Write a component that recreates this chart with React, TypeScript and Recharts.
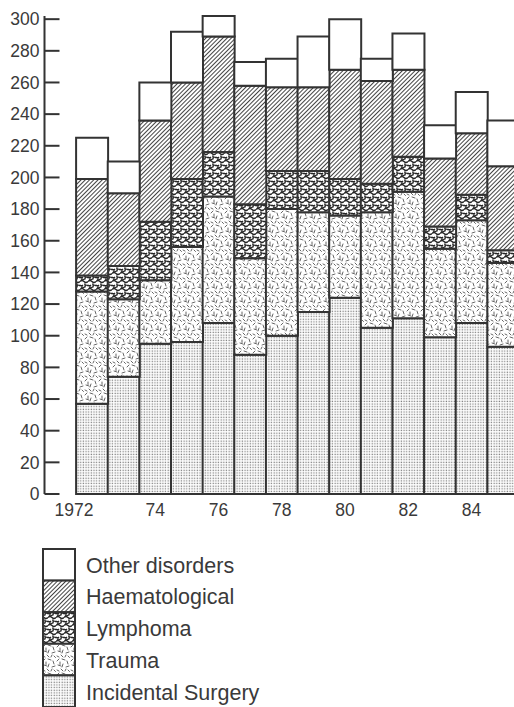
import { Bar, BarChart, XAxis, YAxis } from "recharts"

const years = ["1972", "1973", "1974", "1975", "1976", "1977", "1978", "1979", "1980", "1981", "1982", "1983", "1984", "1985"]
const yearLabels = ["1972", "", "74", "", "76", "", "78", "", "80", "", "82", "", "84", ""]

const surgery = [57, 74, 95, 96, 108, 88, 100, 115, 124, 105, 111, 99, 108, 93]
const trauma = [71, 49, 40, 60, 80, 61, 80, 63, 52, 73, 80, 56, 65, 53]
const lymphoma = [10, 21, 37, 43, 28, 34, 24, 26, 23, 18, 22, 14, 16, 8]
const haematological = [61, 46, 64, 61, 73, 75, 53, 53, 69, 65, 55, 43, 39, 53]
const other = [26, 20, 24, 32, 13, 15, 18, 32, 32, 14, 23, 21, 26, 29]

const yTicks = [0, 20, 40, 60, 80, 100, 120, 140, 160, 180, 200, 220, 240, 260, 280, 300]

// bottom of the stack first
const series = [
  { key: "surgery", name: "Incidental Surgery", fill: "url(#p-dots)" },
  { key: "trauma", name: "Trauma", fill: "url(#p-dash)" },
  { key: "lymphoma", name: "Lymphoma", fill: "url(#p-worm)" },
  { key: "haematological", name: "Haematological", fill: "url(#p-hatch)" },
  { key: "other", name: "Other disorders", fill: "#fff" },
]

const data = years.map((year, i) => ({
  year,
  surgery: surgery[i],
  trauma: trauma[i],
  lymphoma: lymphoma[i],
  haematological: haematological[i],
  other: other[i],
}))

const labelFor: Record<string, string> = {}
years.forEach((y, i) => (labelFor[y] = yearLabels[i]))

const ink = "#333"
const font = "'Liberation Sans', Arial, sans-serif"

function Patterns() {
  return (
    <svg width={0} height={0} style={{ position: "absolute" }}>
      <defs>
        <pattern id="p-dots" width="2.65" height="2.65" patternUnits="userSpaceOnUse">
          <rect width="2.65" height="2.65" fill="#fff" />
          <rect x="0.6" y="0.6" width="1.25" height="1.25" fill="#7a7a7a" />
        </pattern>
        <pattern id="p-dash" width="14" height="14" patternUnits="userSpaceOnUse">
          <rect width="14" height="14" fill="#fff" />
          <path
            d="M1 3l2-2 M6 1l3 1 M11 3l1 3 M2 7l3 1 M7 6l-1 3 M10 9l3-1 M1 12l2 1 M5 11l2 2 M9 13l1-2 M12 12l1.5 1.5 M4 4l0 2.5"
            stroke="#555"
            strokeWidth="0.9"
            strokeLinecap="round"
            fill="none"
          />
        </pattern>
        <pattern id="p-worm" width="8" height="8" patternUnits="userSpaceOnUse">
          <rect width="8" height="8" fill="#fff" />
          <path
            d="M0 1.5q2-2 4 0t4 0 M0 5q1.5 1.5 3 0 M4.5 3.5q1.5 2 0 4 M6 5.5q1-1 2 0.5 M1 7.5q1.5-1 3 0.5"
            stroke="#262626"
            strokeWidth="1.4"
            fill="none"
          />
        </pattern>
        <pattern id="p-hatch" width="3" height="3" patternUnits="userSpaceOnUse" patternTransform="rotate(45)">
          <rect width="3" height="3" fill="#fff" />
          <line x1="1.5" y1="0" x2="1.5" y2="3" stroke="#444" strokeWidth="1" />
        </pattern>
      </defs>
    </svg>
  )
}

function YTick(props: any) {
  const { x, y, payload } = props
  return (
    <g>
      <line x1={x} x2={x + 15} y1={y} y2={y} stroke={ink} strokeWidth={2} />
      <text x={x - 5} y={y} dy="0.36em" textAnchor="end" fontSize={17.5} fontFamily={font} fill="#3a3a3a">
        {payload.value}
      </text>
    </g>
  )
}

function XTick(props: any) {
  const { x, y, payload } = props
  const label = labelFor[payload.value] ?? ""
  const long = label.length > 2
  return (
    <text
      x={long ? x + 1.5 : x}
      y={y + 22}
      textAnchor={long ? "end" : "middle"}
      fontSize={17.5}
      fontFamily={font}
      fill="#3a3a3a"
    >
      {label}
    </text>
  )
}

function LegendBox() {
  const items = [...series].reverse()
  return (
    <svg width={514} height={707} style={{ position: "absolute", left: 0, top: 0 }}>
      {items.map((s, i) => (
        <g key={s.key}>
          <rect x={43} y={549 + i * 31.6} width={32} height={31.6} fill={s.fill} stroke={ink} strokeWidth={2} />
          <text x={86} y={572.5 + i * 31.8} fontSize={21.5} fontFamily={font} fill="#3a3a3a">
            {s.name}
          </text>
        </g>
      ))}
    </svg>
  )
}

export default function App() {
  return (
    <div style={{ position: "absolute", left: 0, top: 0, width: 514, height: 707, overflow: "hidden", background: "#fff" }}>
      <Patterns />
      <BarChart width={519} height={540} data={data} margin={{ top: 16, right: 0, left: 0, bottom: 16 }} barCategoryGap={0}>
        <XAxis
          dataKey="year"
          interval={0}
          axisLine={false}
          tickLine={false}
          tickSize={0}
          tickMargin={0}
          height={30}
          padding={{ left: 31.6, right: 0 }}
          tick={<XTick />}
        />
        <YAxis
          type="number"
          domain={[0, 300]}
          ticks={yTicks}
          interval={0}
          width={44.5}
          tickSize={0}
          tickMargin={0}
          tickLine={false}
          axisLine={{ stroke: ink, strokeWidth: 2 }}
          tick={<YTick />}
        />
        {series.map((s) => (
          <Bar
            key={s.key}
            dataKey={s.key}
            name={s.name}
            stackId="a"
            fill={s.fill}
            stroke={ink}
            strokeWidth={2}
            isAnimationActive={false}
          />
        ))}
      </BarChart>
      <LegendBox />
    </div>
  )
}
